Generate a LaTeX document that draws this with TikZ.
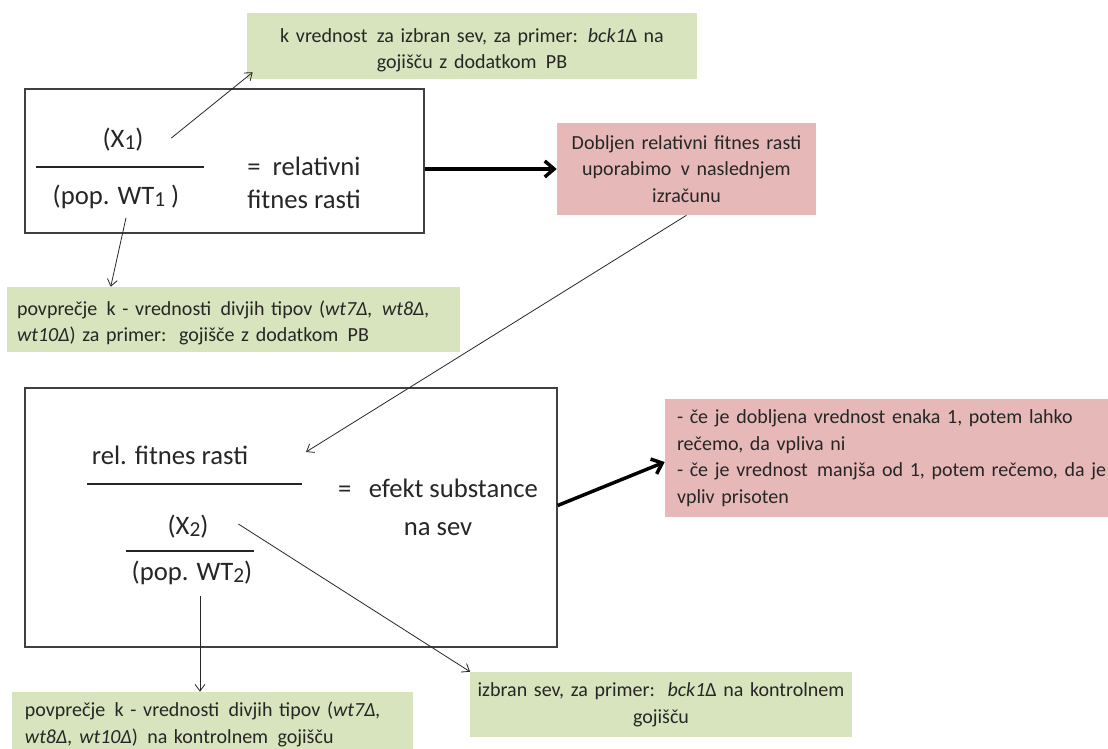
\documentclass[tikz,border=0pt]{standalone}
\usepackage{fontspec}
\setmainfont{Carlito}
\usetikzlibrary{arrows.meta,calc}
\definecolor{gbox}{HTML}{D7E4BD}
\definecolor{pbox}{HTML}{E6B9B8}
\definecolor{txt}{HTML}{262626}
\definecolor{frm}{HTML}{404040}
\newcommand\lowidx[1]{\raisebox{-0.12ex}{\fontsize{16}{16}\selectfont #1}}
\newcommand\xs{\hspace{2pt}}
\begin{document}
\begin{tikzpicture}[x=0.75pt,y=-0.75pt,
  small/.style={font=\fontsize{15}{20}\selectfont},
  big/.style={font=\fontsize{20}{25}\selectfont},
  gnote/.style={fill=gbox,small,text=txt,inner ysep=0pt,anchor=center},
  pnote/.style={fill=pbox,small,text=txt,inner ysep=0pt,anchor=center},
  framebox/.style={draw=frm,line width=1pt,inner sep=0pt,anchor=center},
  bigtext/.style={big,text=txt,inner sep=2pt},
  thinarr/.style={-{Straight Barb[length=5pt,width=7.5pt]},line width=0.6pt,draw=black!85},
  thickarr/.style={-{Straight Barb[length=7pt,width=12pt]},line width=2.6pt,draw=black},
  fbar/.style={line width=0.8pt,draw=black!85}
]
\useasboundingbox (0,0) rectangle (1108,749);

% frames
\node[framebox,minimum width=299.25pt,minimum height=108pt] (box1) at (224.5,161) {};
\node[framebox,minimum width=399pt,minimum height=194.25pt] (box2) at (291,517.5) {};

% notes
\node[gnote,inner xsep=7.5pt,text width=322.5pt,minimum height=49.5pt,align=center] (g1) at (472,46)
  {\rule{0pt}{17pt}k vrednost\xs{} za izbran sev, za primer: \textit{bck1}Δ na\\gojišču z dodatkom\xs{} PB};
\node[pnote,inner xsep=5pt,text width=184.25pt,minimum height=69pt,align=center] (p1) at (686.5,169)
  {Dobljen relativni fitnes rasti\\uporabimo\xs{} v naslednjem\\izračunu};
\node[gnote,inner xsep=7.5pt,text width=324.75pt,minimum height=48.75pt,align=left] (g2) at (233.5,319.5)
  {\rule{0pt}{16pt}povprečje\xs{} k - vrednosti\xs{} divjih tipov (\textit{wt7Δ,\xs{} wt8Δ,}\\\textit{wt10Δ}) za primer:\xs{} gojišče z dodatkom\xs{} PB};
\node[pnote,inner xsep=9pt,text width=345pt,minimum height=88.5pt,align=left] (p2) at (907,458)
  {- če je dobljena vrednost enaka 1, potem lahko\\rečemo, da vpliva ni\\- če je vrednost\xs{} manjša od 1, potem rečemo, da je\\vpliv prisoten};
\node[gnote,inner xsep=9.75pt,text width=281.25pt,minimum height=48.75pt,align=left] (g3) at (212.5,724.5)
  {povprečje\xs{} k - vrednosti\xs{} divjih tipov (\textit{wt7Δ,}\\\textit{wt8Δ, wt10Δ})\xs{} na kontrolnem\xs{} gojišču};
\node[gnote,inner xsep=5pt,text width=276pt,minimum height=48.75pt,align=center] (g4) at (661,704.5)
  {izbran sev, za primer:\xs{} \textit{bck1}Δ na kontrolnem\\gojišču};

% box 1 content
\node[bigtext] (x1) at (123,140) {(X\lowidx{1})};
\node[bigtext] (wt1) at (116,197) {(pop. WT\lowidx{1} )};
\node[bigtext,align=center] (eq1) at (304,183) {=\hspace{9pt}relativni\\fitnes rasti};
\coordinate (f1a) at (36,167);
\coordinate (f1b) at (204,167);
\draw[fbar] (f1a) -- (f1b);

% box 2 content
\node[bigtext] (rel) at (170,455) {rel. fitnes rasti};
\node[bigtext,align=center,font=\fontsize{20}{28.5}\selectfont] (eq2) at (438,507) {=\hspace{13pt}efekt substance\\na sev};
\node[bigtext] (x2) at (188,527) {(X\lowidx{2})};
\node[bigtext] (wt2) at (192,573) {(pop. WT\lowidx{2})};
\coordinate (f2a) at (87,484);
\coordinate (f2b) at (302,484);
\coordinate (f3a) at (126,551);
\coordinate (f3b) at (254,551);
\draw[fbar] (f2a) -- (f2b);
\draw[fbar] (f3a) -- (f3b);

% connectors
\coordinate (x1s) at ($(x1.east)+(25,-2)$);
\draw[thinarr] (x1s) -- ($(g1.south west)+(6,-7)$);
\coordinate (wt1s) at ($(wt1.south)+(10,6)$);
\draw[thinarr] (wt1s) -- ($(g2.north west)+(104,0)$);
\draw[thickarr] (box1.east |- p1.west) -- (p1.west);
\coordinate (reltip) at (306,452);
\draw[thinarr] (p1.south) -- (reltip);
\coordinate (x2s) at ($(x2.east)+(27,-3)$);
\draw[thinarr] (x2s) -- (g4.north west);
\coordinate (d2) at ($(wt2.south)+(8,8)$);
\draw[thinarr] (d2) -- (d2 |- g3.north);
\draw[thickarr] ($(box2.east)+(0,-12)$) -- ($(p2.west)+(0,4)$);
\end{tikzpicture}
\end{document}
